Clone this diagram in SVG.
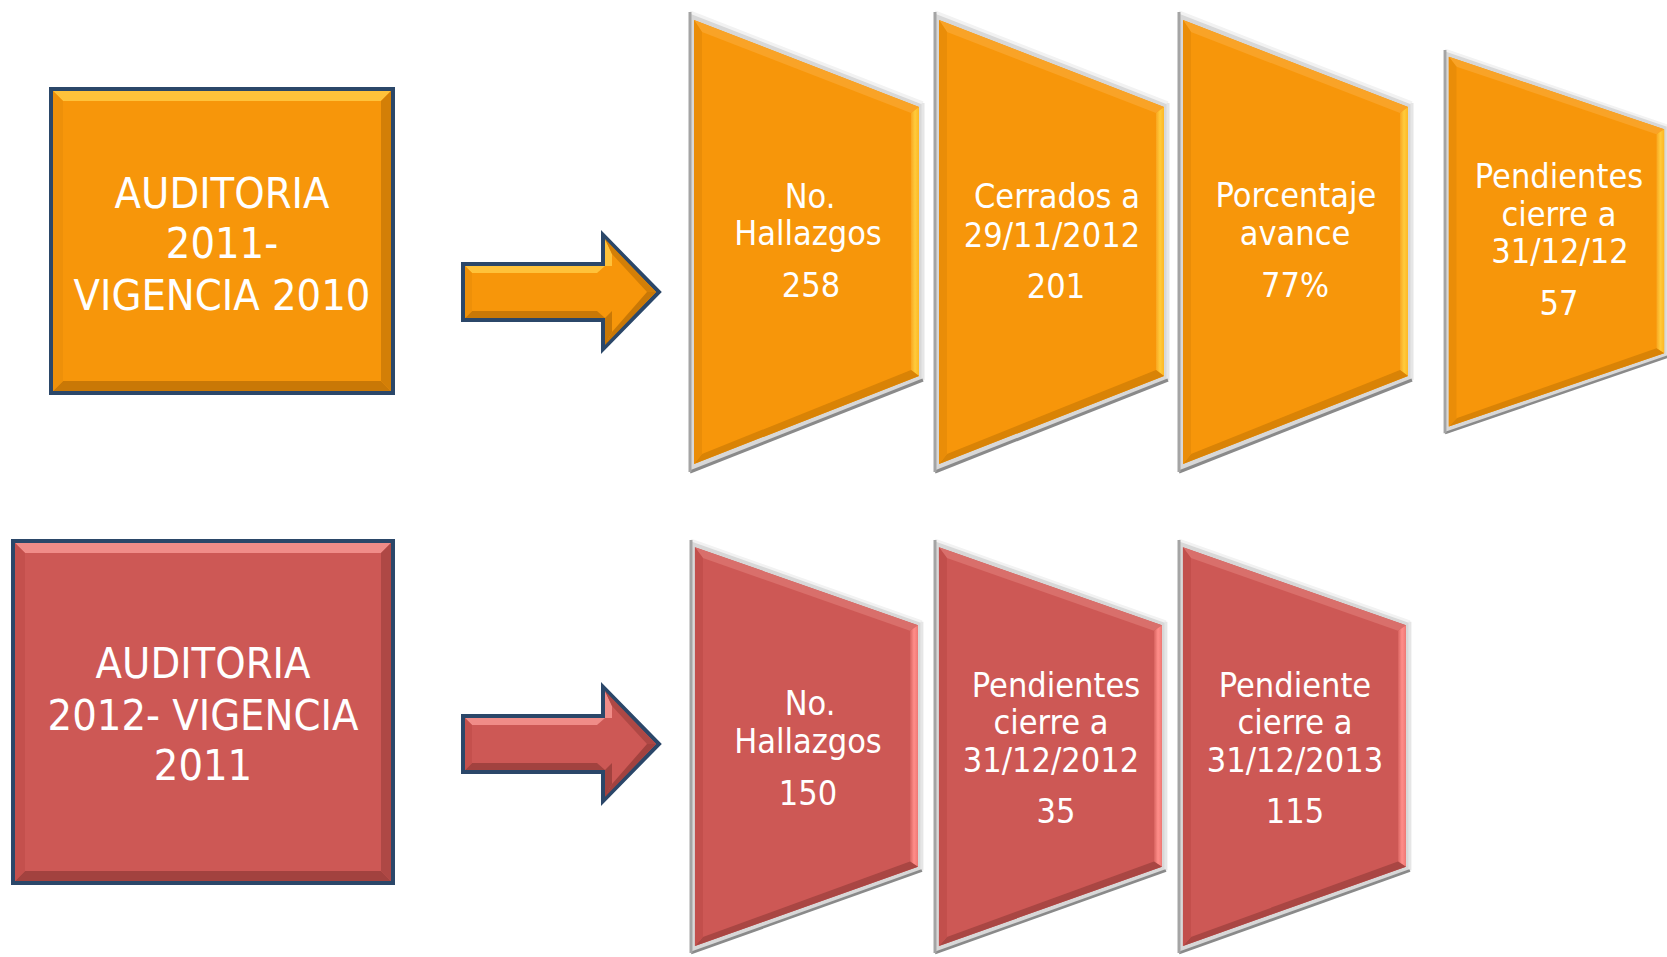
<svg xmlns="http://www.w3.org/2000/svg" xmlns:xlink="http://www.w3.org/1999/xlink" width="1667" height="957" viewBox="0 0 1667 957">
<style>
.t{font-family:"DejaVu Sans Condensed","Liberation Sans",Arial,sans-serif;font-stretch:condensed;fill:#ffffff;text-anchor:middle;font-size:34px}
.big{font-size:43px}
.navy{fill:#2B4769}
.o-main{fill:#F7960A}.o-top{fill:#FFC23A}.o-bot{fill:#C97806}.o-left{fill:#EE9009}.o-right{fill:#D37F07}
.r-main{fill:#CD5855}.r-top{fill:#F08C88}.r-bot{fill:#A2423F}.r-left{fill:#C4504D}.r-right{fill:#AE4845}
</style>
<defs>
<linearGradient id="yelO" x1="0" y1="0" x2="1" y2="0">
<stop offset="0" stop-color="#F9A620"/><stop offset="0.5" stop-color="#FFCB3C"/><stop offset="1" stop-color="#FFB823"/>
</linearGradient>
<linearGradient id="pinkR" x1="0" y1="0" x2="1" y2="0">
<stop offset="0" stop-color="#D8635F"/><stop offset="0.5" stop-color="#FF8E8A"/><stop offset="1" stop-color="#F07A76"/>
</linearGradient>
<g id="rim">
<polygon points="0,0 233,91 233,368 0,460" fill="#d8d8d8"/>
<polyline points="0,0 233,91" fill="none" stroke="#f2f2f2" stroke-width="3"/>
<polyline points="233,91 233,368" fill="none" stroke="#e6e6e6" stroke-width="3"/>
<polyline points="233,368 0,460" fill="none" stroke="#8a8a8a" stroke-width="3"/>
<polyline points="0,0 0,460" fill="none" stroke="#a4a4a4" stroke-width="3"/>
</g>
<g id="trapO">
<use xlink:href="#rim"/>
<polygon class="o-main" points="4,8 229,95 229,364 4,452"/>
<polygon fill="#F9A327" points="4,8 229,95 221,101 12,20"/>
<polygon fill="url(#yelO)" points="229,95 229,364 221,358 221,101"/>
<polygon fill="#D98306" points="229,364 4,452 12,442 221,358"/>
<polygon fill="#EA8D08" points="4,8 12,20 12,442 4,452"/>
</g>
<g id="trapR">
<use xlink:href="#rim"/>
<polygon class="r-main" points="4,8 229,95 229,364 4,452"/>
<polygon fill="#D96F6B" points="4,8 229,95 221,101 12,20"/>
<polygon fill="url(#pinkR)" points="229,95 229,364 221,358 221,101"/>
<polygon fill="#A94643" points="229,364 4,452 12,442 221,358"/>
<polygon fill="#C24F4C" points="4,8 12,20 12,442 4,452"/>
</g>
<g id="arrowO">
<polygon class="o-main" points="0,-28 140,-28 140,-57 196,0 140,57 140,28 0,28" stroke="#2B4769" stroke-width="4"/>
<polygon class="o-top" points="2,-26 142,-26 134,-19 9,-19"/>
<polygon class="o-bot" points="2,26 142,26 134,19 9,19"/>
<polygon class="o-left" points="2,-26 9,-19 9,19 2,26"/>
<polygon class="o-top" points="142,-53 149,-38 149,-26 142,-26"/>
<polygon class="o-right" points="142,-53 193,0 184,0 149,-38"/>
<polygon class="o-bot" points="193,0 142,53 149,40 184,0"/>
<polygon class="o-bot" points="142,26 149,19 149,40 142,53"/>
</g>
<g id="arrowR">
<polygon class="r-main" points="0,-28 140,-28 140,-57 196,0 140,57 140,28 0,28" stroke="#2B4769" stroke-width="4"/>
<polygon class="r-top" points="2,-26 142,-26 134,-19 9,-19"/>
<polygon class="r-bot" points="2,26 142,26 134,19 9,19"/>
<polygon class="r-left" points="2,-26 9,-19 9,19 2,26"/>
<polygon class="r-top" points="142,-53 149,-38 149,-26 142,-26"/>
<polygon class="r-right" points="142,-53 193,0 184,0 149,-38"/>
<polygon class="r-bot" points="193,0 142,53 149,40 184,0"/>
<polygon class="r-bot" points="142,26 149,19 149,40 142,53"/>
</g>
</defs>
<rect width="1667" height="957" fill="#ffffff"/>

<g id="node-aud2011">
<rect class="navy" x="49" y="87" width="346" height="308"/>
<rect class="o-main" x="53" y="91" width="338" height="300"/>
<polygon class="o-top" points="53,91 391,91 381,101 63,101"/>
<polygon class="o-bot" points="53,391 391,391 381,381 63,381"/>
<polygon class="o-left" points="53,91 63,101 63,381 53,391"/>
<polygon class="o-right" points="391,91 381,101 381,381 391,391"/>
<text class="t big" x="222" y="208">AUDITORIA</text>
<text class="t big" x="222" y="258">2011-</text>
<text class="t big" x="222" y="310">VIGENCIA 2010</text>
</g>

<g id="node-aud2012">
<rect class="navy" x="11" y="539" width="384" height="346"/>
<rect class="r-main" x="15" y="543" width="376" height="338"/>
<polygon class="r-top" points="15,543 391,543 381,553 25,553"/>
<polygon class="r-bot" points="15,881 391,881 381,871 25,871"/>
<polygon class="r-left" points="15,543 25,553 25,871 15,881"/>
<polygon class="r-right" points="391,543 381,553 381,871 391,881"/>
<text class="t big" x="203" y="678">AUDITORIA</text>
<text class="t big" x="203" y="730">2012- VIGENCIA</text>
<text class="t big" x="203" y="780">2011</text>
</g>

<g id="connectors">
<use xlink:href="#arrowO" transform="translate(463,292)"/>
<use xlink:href="#arrowR" transform="translate(463,744)"/>
</g>

<g id="node-t1">
<use xlink:href="#trapO" transform="translate(690,12)"/>
<text class="t" x="810" y="208">No.</text>
<text class="t" x="808" y="245">Hallazgos</text>
<text class="t" x="811" y="297">258</text>
</g>
<g id="node-t2">
<use xlink:href="#trapO" transform="translate(935,12)"/>
<text class="t" x="1057" y="208">Cerrados a</text>
<text class="t" x="1052" y="247">29/11/2012</text>
<text class="t" x="1056" y="298">201</text>
</g>
<g id="node-t3">
<use xlink:href="#trapO" transform="translate(1179,12)"/>
<text class="t" x="1296" y="207">Porcentaje</text>
<text class="t" x="1295" y="245">avance</text>
<text class="t" x="1295" y="297">77%</text>
</g>
<g id="node-t4">
<use xlink:href="#trapO" transform="translate(1445,50) scale(0.957,0.833)"/>
<text class="t" x="1559" y="188">Pendientes</text>
<text class="t" x="1559" y="226">cierre a</text>
<text class="t" x="1560" y="263">31/12/12</text>
<text class="t" x="1559" y="315">57</text>
</g>

<g id="node-b1">
<use xlink:href="#trapR" transform="translate(691,540) scale(0.991,0.898)"/>
<text class="t" x="810" y="715">No.</text>
<text class="t" x="808" y="753">Hallazgos</text>
<text class="t" x="808" y="805">150</text>
</g>
<g id="node-b2">
<use xlink:href="#trapR" transform="translate(935,540) scale(0.991,0.898)"/>
<text class="t" x="1056" y="697">Pendientes</text>
<text class="t" x="1051" y="734">cierre a</text>
<text class="t" x="1051" y="772">31/12/2012</text>
<text class="t" x="1056" y="823">35</text>
</g>
<g id="node-b3">
<use xlink:href="#trapR" transform="translate(1179,540) scale(0.991,0.898)"/>
<text class="t" x="1295" y="697">Pendiente</text>
<text class="t" x="1295" y="734">cierre a</text>
<text class="t" x="1295" y="772">31/12/2013</text>
<text class="t" x="1295" y="823">115</text>
</g>
</svg>
